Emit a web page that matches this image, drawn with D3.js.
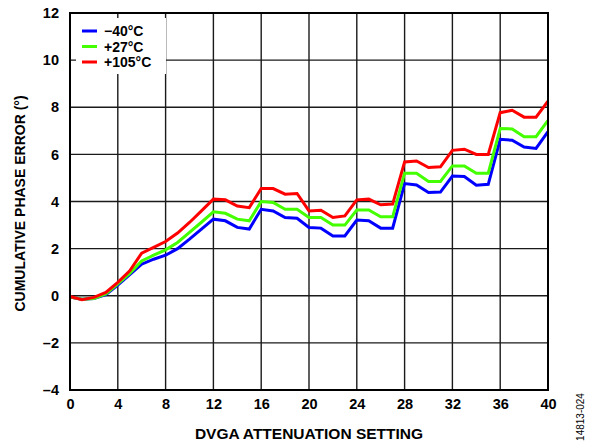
<!DOCTYPE html>
<html><head><meta charset="utf-8">
<script src="https://cdn.jsdelivr.net/npm/d3@7"></script>
<style>body{margin:0;background:#fff}svg{display:block}text{font-family:"Liberation Sans",Arial,sans-serif}</style>
</head><body><svg id="c" width="595" height="446"></svg>
<script>
const settings = d3.range(0, 41);
const seriesNames = ["\u221240\u00b0C", "+27\u00b0C", "+105\u00b0C"];
const seriesColors = ["#0000ff", "#44ff00", "#ff0000"];
const cold = [-0.05,-0.15,-0.12,0.05,0.45,0.9,1.34,1.55,1.72,2.0,2.4,2.83,3.25,3.18,2.9,2.83,3.67,3.6,3.32,3.29,2.9,2.87,2.54,2.54,3.21,3.18,2.87,2.87,4.76,4.7,4.38,4.4,5.08,5.06,4.69,4.73,6.64,6.6,6.31,6.25,6.97];
const room = [-0.05,-0.15,-0.12,0.08,0.5,0.95,1.48,1.72,1.95,2.26,2.69,3.12,3.56,3.5,3.25,3.18,4.0,3.96,3.67,3.67,3.32,3.32,3.0,3.0,3.64,3.64,3.35,3.35,5.2,5.2,4.85,4.85,5.51,5.51,5.2,5.2,7.1,7.08,6.75,6.75,7.44];
const hot = [-0.03,-0.17,-0.07,0.14,0.57,1.06,1.81,2.05,2.3,2.66,3.11,3.6,4.1,4.07,3.81,3.74,4.55,4.55,4.31,4.34,3.6,3.63,3.32,3.39,4.07,4.1,3.86,3.89,5.68,5.72,5.44,5.47,6.17,6.22,6.0,6.0,7.77,7.87,7.58,7.58,8.26];
const xTicks = [0,4,8,12,16,20,24,28,32,36,40];
const yTicks = [-4,-2,0,2,4,6,8,10,12];
const xTitle = "DVGA ATTENUATION SETTING";
const yTitle = "CUMULATIVE PHASE ERROR (\u00b0)";
const figId = "14813-024";

const svg = d3.select("#c");
const L = 70, R = 548, T = 13, B = 390;
const x = d3.scaleLinear().domain([0, 40]).range([L, R]);
const y = d3.scaleLinear().domain([-4, 12]).range([B, T]);
const fmt = d => (d < 0 ? "\u2013" + Math.abs(d) : String(d));

// grid
const g = svg.append("g");
g.selectAll("line.v").data(xTicks).join("line")
  .attr("x1", d => x(d)).attr("x2", d => x(d)).attr("y1", T).attr("y2", B)
  .attr("stroke", "#1a1a1a").attr("stroke-width", 1.4);
g.selectAll("line.h").data(yTicks).join("line")
  .attr("y1", d => y(d)).attr("y2", d => y(d)).attr("x1", L).attr("x2", R)
  .attr("stroke", "#1a1a1a").attr("stroke-width", 1.4);

// series
const all = [cold, room, hot];
const line = d3.line().x((d, i) => x(settings[i])).y(d => y(d));
svg.selectAll("path.s").data(all).join("path")
  .attr("d", d => line(d)).attr("fill", "none")
  .attr("stroke", (d, i) => seriesColors[i]).attr("stroke-width", 3)
  .attr("stroke-linejoin", "miter");

// legend
const lg = svg.append("g");
lg.append("rect").attr("x", L + 6).attr("y", T + 5).attr("width", 90).attr("height", 56).attr("fill", "#fff");
seriesNames.forEach((n, i) => {
  const yy = T + 18 + i * 15.5;
  lg.append("line").attr("x1", L + 12).attr("x2", L + 27).attr("y1", yy).attr("y2", yy)
    .attr("stroke", seriesColors[i]).attr("stroke-width", 3);
  lg.append("text").attr("x", L + 34).attr("y", yy + 5).attr("font-size", 14).attr("font-weight", "bold").text(n);
});

// frame
svg.append("rect").attr("x", L).attr("y", T).attr("width", R - L).attr("height", B - T)
  .attr("fill", "none").attr("stroke", "#000").attr("stroke-width", 2);

// axes labels
const xa = svg.append("g").attr("transform", `translate(0,${B})`)
  .call(d3.axisBottom(x).tickValues(xTicks).tickFormat(fmt).tickSize(0).tickPadding(9));
xa.select(".domain").remove();
xa.selectAll("text").attr("font-size", 14.5).attr("font-weight", "bold").attr("font-family", "Liberation Sans, Arial, sans-serif").attr("fill", "#000");
const ya = svg.append("g").attr("transform", `translate(${L},0)`)
  .call(d3.axisLeft(y).tickValues(yTicks).tickFormat(fmt).tickSize(0).tickPadding(11));
ya.select(".domain").remove();
ya.selectAll("text").attr("font-size", 14.5).attr("font-weight", "bold").attr("font-family", "Liberation Sans, Arial, sans-serif").attr("fill", "#000");

svg.append("text").attr("x", 309).attr("y", 439).attr("text-anchor", "middle")
  .attr("font-size", 15.5).attr("font-weight", "bold").text(xTitle);
svg.append("text").attr("transform", `translate(25,${(T + B) / 2 + 2}) rotate(-90)`).attr("text-anchor", "middle")
  .attr("font-size", 14).attr("font-weight", "bold").text(yTitle);
svg.append("text").attr("transform", `translate(584,417) rotate(-90)`).attr("text-anchor", "middle")
  .attr("font-size", 10).text(figId);
</script></body></html>
